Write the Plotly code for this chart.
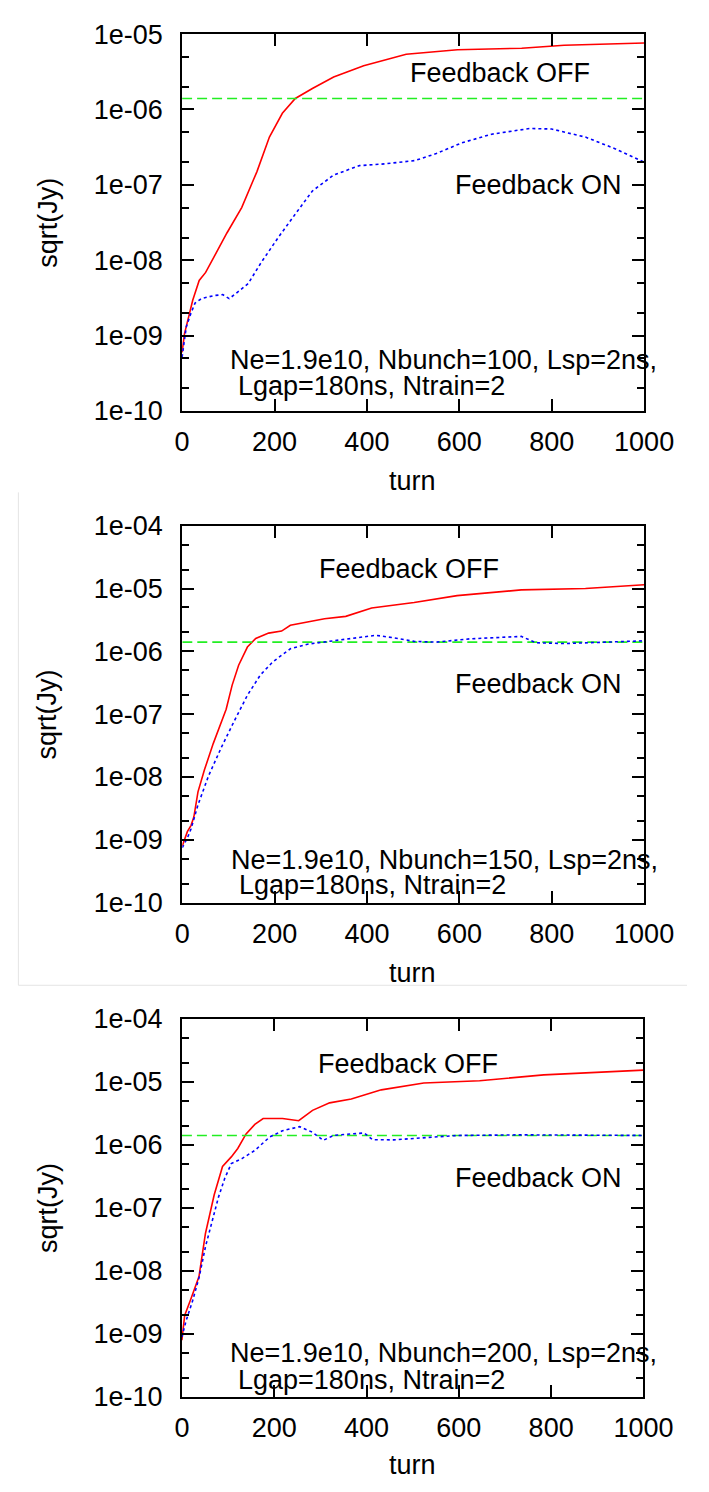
import plotly.graph_objects as go

# ---- data (turn, sqrt(Jy)) ----
threshold = 1.4e-6

p1_off_turn = [0, 5, 23, 37, 51, 97, 129, 162, 189, 217, 245, 282, 328, 393, 485, 596, 735, 827, 1000]
p1_off_val = [6e-10, 1.05e-9, 2.95e-9, 5.4e-9, 6.9e-9, 2.3e-8, 5e-8, 1.5e-7, 4.3e-7, 8.9e-7, 1.4e-6,
              1.9e-6, 2.7e-6, 3.8e-6, 5.4e-6, 6.2e-6, 6.5e-6, 7.1e-6, 7.6e-6]
p1_on_turn = [0, 9, 18, 28, 42, 69, 88, 102, 116, 143, 171, 208, 245, 282, 328, 384, 439, 504, 550,
              605, 670, 753, 800, 873, 938, 1000]
p1_on_val = [5.2e-10, 1.3e-9, 1.9e-9, 2.7e-9, 3.1e-9, 3.4e-9, 3.5e-9, 3.1e-9, 3.6e-9, 4.9e-9, 9.3e-9,
             2.0e-8, 4.1e-8, 8.3e-8, 1.35e-7, 1.8e-7, 1.9e-7, 2.1e-7, 2.6e-7, 3.6e-7, 4.7e-7, 5.6e-7,
             5.5e-7, 4.3e-7, 3.0e-7, 2.0e-7]

p2_off_turn = [0, 11, 19, 25, 34, 48, 67, 95, 108, 122, 141, 159, 187, 215, 234, 271, 308, 354, 410,
               502, 595, 734, 873, 1000]
p2_off_val = [8e-10, 1.35e-9, 1.7e-9, 2.3e-9, 5.8e-9, 1.3e-8, 3.4e-8, 1.2e-7, 2.9e-7, 6e-7, 1.17e-6,
              1.6e-6, 1.95e-6, 2.1e-6, 2.6e-6, 2.95e-6, 3.3e-6, 3.6e-6, 4.9e-6, 6.0e-6, 7.7e-6, 9.5e-6,
              1.0e-5, 1.15e-5]
p2_on_turn = [0, 11, 19, 34, 57, 85, 113, 141, 169, 196, 234, 271, 317, 363, 419, 456, 502, 549, 623,
              734, 748, 766, 827, 920, 1000]
p2_on_val = [7.5e-10, 1.07e-9, 1.5e-9, 3.6e-9, 1.05e-8, 3.0e-8, 7.9e-8, 2.0e-7, 4.2e-7, 6.8e-7, 1.1e-6,
             1.3e-6, 1.44e-6, 1.6e-6, 1.8e-6, 1.65e-6, 1.44e-6, 1.4e-6, 1.58e-6, 1.73e-6, 1.58e-6,
             1.37e-6, 1.33e-6, 1.4e-6, 1.47e-6]

p3_off_turn = [0, 6, 19, 32, 37, 51, 70, 88, 107, 121, 139, 158, 176, 218, 253, 283, 320, 367, 432,
               524, 645, 784, 1000]
p3_off_val = [7.9e-10, 1.95e-9, 3.5e-9, 6.8e-9, 8.1e-9, 3.9e-8, 1.6e-7, 4.5e-7, 6.4e-7, 8.7e-7, 1.48e-6,
              2.1e-6, 2.6e-6, 2.6e-6, 2.4e-6, 3.5e-6, 4.6e-6, 5.3e-6, 7.4e-6, 9.5e-6, 1.03e-5, 1.28e-5,
              1.52e-5]
p3_on_turn = [0, 9, 23, 37, 51, 65, 79, 93, 107, 130, 158, 190, 218, 255, 283, 306, 329, 367, 395, 413,
              459, 533, 598, 737, 1000]
p3_on_val = [8.9e-10, 1.6e-9, 3.3e-9, 7.7e-9, 2.4e-8, 6.2e-8, 1.45e-7, 2.95e-7, 5e-7, 6e-7, 8.1e-7,
             1.32e-6, 1.66e-6, 1.93e-6, 1.57e-6, 1.17e-6, 1.4e-6, 1.48e-6, 1.53e-6, 1.2e-6, 1.19e-6,
             1.3e-6, 1.4e-6, 1.43e-6, 1.4e-6]

nbunch = [100, 150, 200]
y_decades = [(-10, -5), (-10, -4), (-10, -4)]
x_ticks = [0, 200, 400, 600, 800, 1000]

W, H = 709, 1492
PAGE_OFF = 8  # the page body margin pushes the figure 8px right and down
FONT = "Liberation Sans, Arial, Helvetica"
FSIZE = 27


def px(x):
    return (x - PAGE_OFF) / W


def py(y):
    return 1 - (y - PAGE_OFF) / H


# panel boxes in screen pixels: left, right, top, bottom
boxes = [(183.5, 671.7, 19.3, 404), (183.7, 671.7, 521, 905.7), (183.3, 671, 1024, 1410)]

panels = [
    (p1_off_turn, p1_off_val, p1_on_turn, p1_on_val),
    (p2_off_turn, p2_off_val, p2_on_turn, p2_on_val),
    (p3_off_turn, p3_off_val, p3_on_turn, p3_on_val),
]

# text positions (screen pixels)
off_pos = [(519, 59), (423, 565), (422, 1070)]
on_pos = [(560, 173), (560, 683), (560, 1187)]
info_x = [(232, 240), (233, 241), (232, 240)]
info_y = [(352, 378), (862, 888), (1365, 1393)]
turn_y = [475, 977, 1480]

fig = go.Figure()
layout = {}
annotations = []
font = dict(family=FONT, size=FSIZE, color="black")

for i, (off_t, off_v, on_t, on_v) in enumerate(panels):
    n = i + 1
    xa = "x" if n == 1 else f"x{n}"
    ya = "y" if n == 1 else f"y{n}"
    left, right, top, bottom = boxes[i]

    fig.add_trace(go.Scatter(x=off_t, y=off_v, mode="lines", xaxis=xa, yaxis=ya,
                             line=dict(color="#ff0000", width=1.6), showlegend=False))
    fig.add_trace(go.Scatter(x=[0, 1000], y=[threshold, threshold], mode="lines", xaxis=xa, yaxis=ya,
                             line=dict(color="#22ee22", width=1.6, dash="10px,5px"), showlegend=False))
    fig.add_trace(go.Scatter(x=on_t, y=on_v, mode="lines", xaxis=xa, yaxis=ya,
                             line=dict(color="#0000ff", width=1.6, dash="3px,3px"), showlegend=False))

    lo, hi = y_decades[i]
    yvals = [10.0 ** k for k in range(lo, hi + 1)]
    ytext = ["1e-%02d" % (-k) for k in range(lo, hi + 1)]

    layout["xaxis" if n == 1 else f"xaxis{n}"] = dict(
        domain=[px(left), px(right)], anchor=ya, range=[0, 1000],
        tickvals=x_ticks, ticks="inside", ticklen=12, tickwidth=1.5, tickcolor="black",
        showline=True, linewidth=2, linecolor="black", mirror="allticks",
        showgrid=False, zeroline=False, ticklabelstandoff=6,
        tickfont=font,
    )
    layout["yaxis" if n == 1 else f"yaxis{n}"] = dict(
        domain=[py(bottom), py(top)], anchor=xa, type="log", range=[lo, hi],
        tickvals=yvals, ticktext=ytext, ticks="inside", ticklen=12, tickwidth=1.5, tickcolor="black",
        minor=dict(ticks="inside", ticklen=7, tickwidth=1.5, tickcolor="black", dtick="D2", showgrid=False),
        showline=True, linewidth=2, linecolor="black", mirror="allticks",
        showgrid=False, zeroline=False, ticklabelstandoff=12,
        tickfont=font,
    )

    def ann(text, x, y, xanchor="center", angle=0):
        annotations.append(dict(text=text, x=px(x), y=py(y), xref="paper", yref="paper",
                                xanchor=xanchor, yanchor="middle", showarrow=False,
                                textangle=angle, font=font))

    ann("Feedback OFF", *off_pos[i])
    ann("Feedback ON", *on_pos[i])
    ann(f"Ne=1.9e10, Nbunch={nbunch[i]}, Lsp=2ns,", info_x[i][0], info_y[i][0], "left")
    ann("Lgap=180ns, Ntrain=2", info_x[i][1], info_y[i][1], "left")
    ann("turn", 427, turn_y[i])
    ann("sqrt(Jy)", 41, (top + bottom) / 2, angle=-90)

# faint frame of the pasted middle panel
shapes = [
    dict(type="line", xref="paper", yref="paper", x0=px(10.5), x1=px(10.5), y0=py(487), y1=py(990),
         line=dict(color="#e4e4e4", width=1)),
    dict(type="line", xref="paper", yref="paper", x0=px(10.5), x1=1, y0=py(990), y1=py(990),
         line=dict(color="#e4e4e4", width=1)),
]

fig.update_layout(width=W, height=H, margin=dict(l=0, r=0, t=0, b=0),
                  paper_bgcolor="white", plot_bgcolor="white",
                  annotations=annotations, shapes=shapes, **layout)

fig.write_html("out.html")
